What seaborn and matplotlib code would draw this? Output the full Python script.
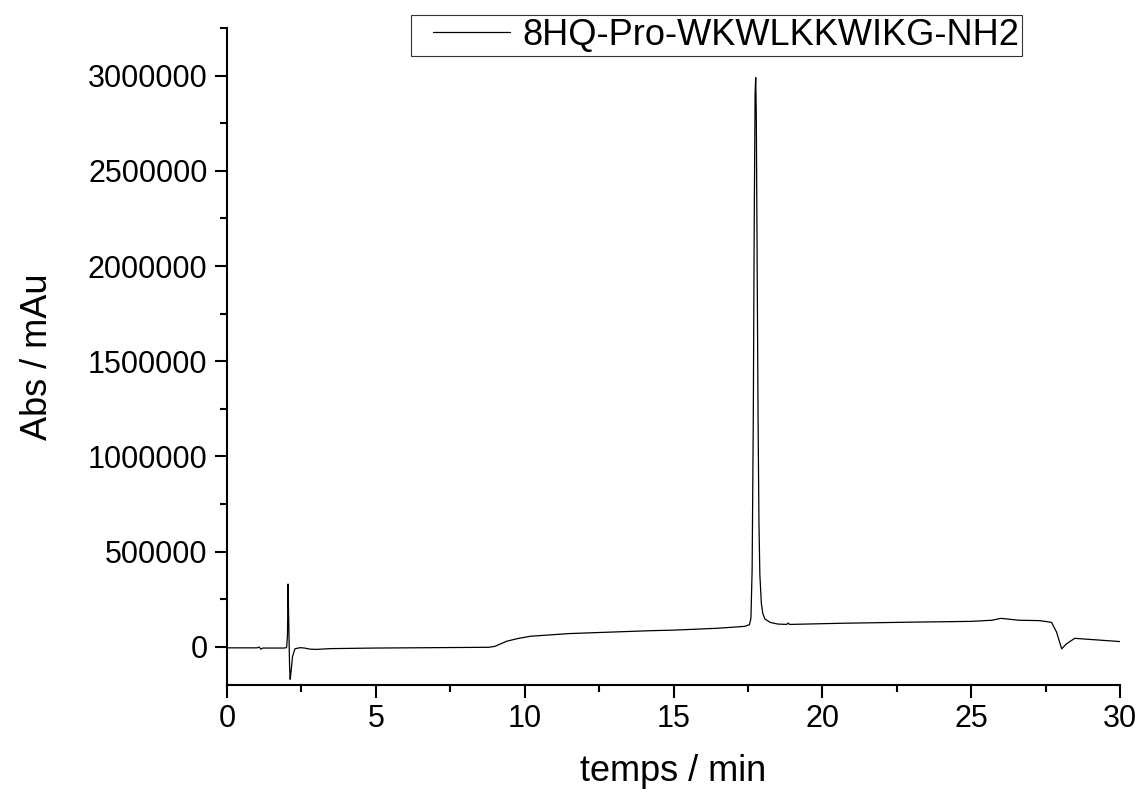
import numpy as np
import pandas as pd
import matplotlib
matplotlib.use("Agg")
import matplotlib.pyplot as plt
import seaborn as sns
from matplotlib.legend_handler import HandlerLine2D

# -----------------------------
# Chromatogram
# -----------------------------
temps = [0, 1.0, 1.08, 1.14, 1.2, 1.9, 2.0, 2.03, 2.05, 2.07, 2.10, 2.12, 2.15,
         2.2, 2.28, 2.45, 2.6, 2.8, 3.0, 3.5, 5, 7, 8.8, 9.0, 9.4, 9.8, 10.2,
         11.5, 14.2, 15.0, 16.5, 17.4, 17.5, 17.55, 17.6, 17.64, 17.68, 17.71,
         17.74, 17.76, 17.78, 17.81, 17.84, 17.87, 17.9, 17.95, 18.0, 18.07,
         18.24, 18.5, 18.8, 18.85, 18.9, 20.6, 23, 25, 25.7, 26.0, 26.3, 26.6,
         27.3, 27.7, 27.87, 28.04, 28.2, 28.48, 30]
absorb = [-5000, -5000, -1000, -12000, -6000, -6000, -4000, 60000, 330000,
          150000, -100000, -170000, -130000, -50000, -10000, -4000, -6000, -12000,
          -13000, -9000, -6000, -4000, -2000, 3000, 30000, 45000, 56000,
          70000, 85000, 88000, 98000, 108000, 114000, 116000, 150000, 400000,
          1200000, 2200000, 2900000, 2990000, 2800000, 2000000, 1200000,
          650000, 380000, 230000, 175000, 147000, 129000, 120000, 118000,
          125000, 118000, 124000, 130000, 134000, 140000, 150000, 145000,
          140000, 138000, 129000, 77000, -10000, 16000, 45000, 28000]
label = "8HQ-Pro-WKWLKKWIKG-NH2"

df = pd.DataFrame({"temps": temps, "abs": absorb})

sns.set_style("ticks")
plt.rcParams["font.family"] = ["Liberation Sans", "DejaVu Sans"]

fig = plt.figure(figsize=(11.41, 7.94), dpi=100)
ax = fig.add_axes([0.199, 0.1373, 0.7826, 0.8274])

sns.lineplot(data=df, x="temps", y="abs", color="black", linewidth=0.9,
             estimator=None, sort=False, label=label, ax=ax)

ax.set_xlim(0, 30)
ax.set_ylim(-200000, 3250000)
ax.set_xticks(np.arange(0, 31, 5))
ax.set_yticks(np.arange(0, 3000001, 500000))
ax.set_yticklabels([str(v) for v in range(0, 3000001, 500000)])
ax.set_xticks(np.arange(2.5, 30, 5), minor=True)
ax.set_yticks(np.arange(-250000, 3250001, 500000)[1:], minor=True)

ax.tick_params(which="major", direction="out", length=9, width=1.5, pad=5,
               labelsize=22, color="black", labelcolor="black")
ax.tick_params(which="minor", direction="out", length=5, width=1.5,
               color="black")

for s in ["top", "right"]:
    ax.spines[s].set_visible(False)
for s in ["left", "bottom"]:
    ax.spines[s].set_linewidth(1.5)
    ax.spines[s].set_color("black")

ax.set_xlabel("temps / min", fontsize=26, labelpad=14, color="black")
ax.set_ylabel("Abs / mAu", fontsize=26, labelpad=24, color="black")

# legend: line sample set in from the frame's left edge
handles, labels = ax.get_legend_handles_labels()
leg = ax.legend(handles, labels, loc="upper center",
                bbox_to_anchor=(716.5 / 1141, 1 - 15 / 794),
                bbox_transform=fig.transFigure, fontsize=26, frameon=True,
                fancybox=False, handlelength=2.66, borderpad=0.08,
                handletextpad=0.33, borderaxespad=0,
                handler_map={handles[0]: HandlerLine2D(xpad=0.53)})
leg.get_frame().set_edgecolor("black")
leg.get_frame().set_linewidth(0.8)
for t in leg.get_texts():
    t.set_color("black")

fig.savefig("out.png", dpi=100)
